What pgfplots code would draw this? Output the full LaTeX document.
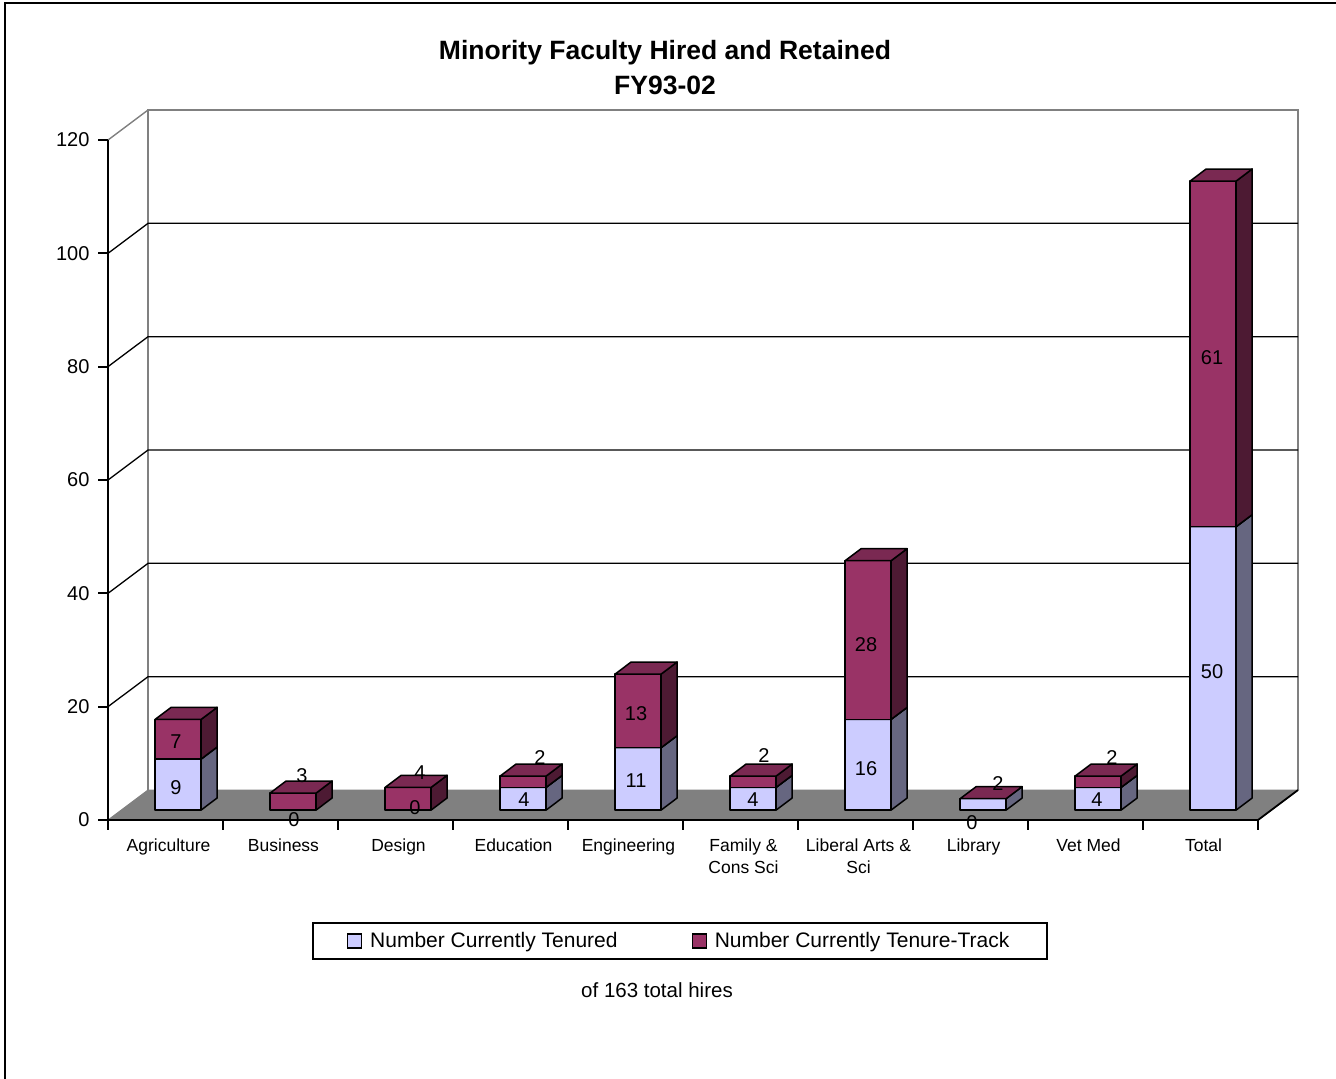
\documentclass[border=0pt]{standalone}
\usepackage{pgfplots}
\pgfplotsset{compat=1.18}
\usepackage{pgfplotstable}
\usepackage{fontspec}
\setmainfont{Liberation Sans}

\definecolor{tenFront}{RGB}{204,204,255}
\definecolor{tenSide}{RGB}{102,102,128}
\definecolor{tenTop}{RGB}{153,153,191}
\definecolor{trkFront}{RGB}{153,51,102}
\definecolor{trkSide}{RGB}{77,26,51}
\definecolor{trkTop}{RGB}{122,41,82}
\definecolor{floorGray}{RGB}{128,128,128}
\definecolor{wallGray}{RGB}{128,128,128}

% faculty hired and retained, by college
\pgfplotstableread{
idx ten track
0   9   7
1   0   3
2   0   4
3   4   2
4   11  13
5   4   2
6   16  28
7   0   2
8   4   2
9   50  61
}\facultydata

% bar geometry in axis units
\def\barbase{1.765}% bars stand a little behind the front edge of the floor
\def\barw{0.4}
\def\depx{0.139}
\def\depy{2.118}

\pgfplotsset{
  barface/.style={draw=black, line width=0.75pt, line join=round, forget plot},
  wallline/.style={draw=wallGray, line width=0.7pt, forget plot},
  gridline/.style={draw=black, line width=0.65pt, forget plot},
}

% one box: left x, bottom y, top y, front/side/top colours
\newcommand\cuboid[6]{%
  \pgfmathsetmacro\xa{#1}%
  \pgfmathsetmacro\xb{#1+\barw}%
  \pgfmathsetmacro\xc{#1+\barw+\depx}%
  \pgfmathsetmacro\xd{#1+\depx}%
  \pgfmathsetmacro\ya{#2}%
  \pgfmathsetmacro\yb{#3}%
  \pgfmathsetmacro\yc{#2+\depy}%
  \pgfmathsetmacro\yd{#3+\depy}%
  \edef\doface{%
    \noexpand\addplot[barface, fill=#4] coordinates {(\xa,\ya) (\xb,\ya) (\xb,\yb) (\xa,\yb)} -- cycle;
    \noexpand\addplot[barface, fill=#5] coordinates {(\xb,\ya) (\xc,\yc) (\xc,\yd) (\xb,\yb)} -- cycle;
    \noexpand\addplot[barface, fill=#6] coordinates {(\xa,\yb) (\xb,\yb) (\xc,\yd) (\xd,\yd)} -- cycle;
  }\doface
}

\begin{document}
\begin{tikzpicture}
\begin{axis}[
  at={(0,0)}, anchor=origin,
  x=57.5pt, y=2.83333pt,
  xmin=0, xmax=10, ymin=0, ymax=120,
  clip=false,
  axis on top,
  axis lines*=left,
  axis line style={black, line width=0.9pt},
  tick style={black, line width=0.9pt},
  tick align=outside,
  major tick length=4.75pt,
  xtick={0,...,10},
  x tick label as interval,
  xticklabels={Agriculture, Business, Design, Education, Engineering,
    {Family \&\\Cons Sci}, {Liberal Arts \&\\Sci}, Library, Vet Med, Total},
  xticklabel style={align=center, font=\fontsize{8.75}{11}\selectfont, xshift=1.5pt, yshift=-1pt},
  ytick={0,20,...,120},
  yticklabel style={font=\fontsize{10}{12}\selectfont, xshift=-1pt},
  /pgf/number format/assume math mode=true,
  legend style={
    at={(axis description cs:0.4975,-0.15)}, anchor=north,
    draw=black, line width=0.9pt,
    legend columns=2,
    inner xsep=17pt, inner ysep=2.5pt,
    font=\fontsize{10.5}{12}\selectfont,
    /tikz/every odd column/.append style={column sep=2pt},
    /tikz/every even column/.append style={column sep=35pt},
  },
]
% back wall and side wall outline
\addplot[wallline] coordinates {(0.348,5.294) (0.348,125.294) (10.348,125.294) (10.348,5.294)};
\addplot[wallline] coordinates {(0,120) (0.348,125.294)};
% gridlines along side and back walls
\addplot[gridline] coordinates {(0,20) (0.348,25.294) (10.348,25.294)};
\addplot[gridline] coordinates {(0,40) (0.348,45.294) (10.348,45.294)};
\addplot[gridline] coordinates {(0,60) (0.348,65.294) (10.348,65.294)};
\addplot[gridline] coordinates {(0,80) (0.348,85.294) (10.348,85.294)};
\addplot[gridline] coordinates {(0,100) (0.348,105.294) (10.348,105.294)};
% floor
\addplot[fill=floorGray, draw=floorGray, line width=0.5pt, forget plot]
  coordinates {(0,0) (10,0) (10.348,5.294) (0.348,5.294)} -- cycle;
\addplot[black, line width=0.9pt, forget plot] coordinates {(10,0) (10.348,5.294)};

% stacked boxes
\pgfplotsforeachungrouped \i in {0,...,9}{%
  \pgfplotstablegetelem{\i}{ten}\of\facultydata \let\ten\pgfplotsretval
  \pgfplotstablegetelem{\i}{track}\of\facultydata \let\trk\pgfplotsretval
  \pgfmathsetmacro\xl{\i+0.41}%
  \pgfmathsetmacro\ymid{\barbase+\ten}%
  \pgfmathsetmacro\ytop{\barbase+\ten+\trk}%
  \ifdim\ten pt>0pt \cuboid{\xl}{\barbase}{\ymid}{tenFront}{tenSide}{tenTop}\fi
  \ifnum\i=7
    \cuboid{\xl}{\ymid}{\ytop}{tenFront}{tenSide}{trkTop}%
  \else
    \cuboid{\xl}{\ymid}{\ytop}{trkFront}{trkSide}{trkTop}%
  \fi
}

\addlegendimage{legend image code/.code={\draw[black, line width=0.6pt, fill=tenFront] (0pt,-3.5pt) rectangle (7pt,3.5pt);}}
\addlegendentry{Number Currently Tenured}
\addlegendimage{legend image code/.code={\draw[black, line width=0.6pt, fill=trkFront] (0pt,-3.5pt) rectangle (7pt,3.5pt);}}
\addlegendentry{Number Currently Tenure-Track}
\end{axis}

% value labels
\begin{scope}[every node/.style={font=\fontsize{10}{12}\selectfont, inner sep=0pt}]
\node at (34pt,16pt)      {9};
\node at (34pt,39pt)      {7};
\node at (93pt,0pt)       {0};
\node at (97pt,22pt)      {3};
\node at (153.5pt,6pt)    {0};
\node at (156pt,23.5pt)   {4};
\node at (208pt,10pt)     {4};
\node at (216pt,31pt)     {2};
\node at (264pt,19.5pt)   {11};
\node at (264pt,53pt)     {13};
\node at (322.5pt,10pt)   {4};
\node at (328pt,32pt)     {2};
\node at (379pt,25.5pt)   {16};
\node at (379pt,87.5pt)   {28};
\node at (432pt,-1.5pt)   {0};
\node at (445pt,18pt)     {2};
\node at (494.5pt,10pt)   {4};
\node at (502pt,31pt)     {2};
\node at (552pt,74pt)     {50};
\node at (552pt,231pt)    {61};
\end{scope}

% title and note
\node[font=\bfseries\fontsize{13.25}{17.5}\selectfont, align=center] at (278.5pt,376.25pt)
  {Minority Faculty Hired and Retained\\FY93-02};
\node[font=\fontsize{10.25}{12}\selectfont] at (274.5pt,-85pt) {of 163 total hires};

% outer frame
\draw[line width=1pt] (-51.5pt,-200pt) -- (-51.5pt,408.5pt) -- (700pt,408.5pt);

\pgfresetboundingbox
\path[use as bounding box] (-54pt,-129pt) rectangle (614pt,410pt);
\end{tikzpicture}
\end{document}
